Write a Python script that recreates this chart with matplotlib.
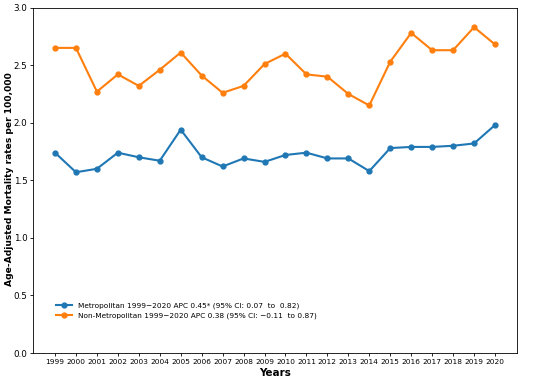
import numpy as np
from matplotlib import pyplot as plt

years = list(range(1999, 2021))
metro = [1.74, 1.57, 1.60, 1.74, 1.70, 1.67, 1.94, 1.70, 1.62, 1.69, 1.66,
         1.72, 1.74, 1.69, 1.69, 1.58, 1.78, 1.79, 1.79, 1.80, 1.82, 1.98]
nonmetro = [2.65, 2.65, 2.27, 2.42, 2.32, 2.46, 2.61, 2.41, 2.26, 2.32, 2.51,
            2.60, 2.42, 2.40, 2.25, 2.15, 2.53, 2.78, 2.63, 2.63, 2.83, 2.68]
labels = ["Metropolitan 1999\u22122020 APC 0.45* (95% CI: 0.07  to  0.82)",
          "Non-Metropolitan 1999\u22122020 APC 0.38 (95% CI: \u22120.11  to 0.87)"]

fig = plt.figure(figsize=(5.5, 3.8), dpi=100)
ax = fig.add_axes([0.06, 0.071, 0.88, 0.909])
ax.plot(years, metro, marker='o', color='#1f77b4', markersize=3.5, linewidth=1.5, label=labels[0])
ax.plot(years, nonmetro, marker='o', color='#ff7f0e', markersize=3.5, linewidth=1.5, label=labels[1])

ax.set_ylim(0, 3.0)
ax.set_xticks(years)
ax.set_xticklabels([str(y) for y in years], fontsize=5.3)
ax.tick_params(axis='y', labelsize=6.3)
ax.tick_params(length=2.5, width=0.6, pad=1.5)
for s in ax.spines.values():
    s.set_linewidth(0.6)
ax.set_xlabel("Years", fontsize=7.5, fontweight='bold', va='center')
ax.set_ylabel("Age-Adjusted Mortality rates per 100,000", fontsize=6.6, fontweight='bold', va='center')
ax.xaxis.set_label_coords(0.5, -0.058)
ax.yaxis.set_label_coords(-0.048, 0.505)
ax.legend(loc='lower left', bbox_to_anchor=(0.033, 0.08), frameon=False, fontsize=5.3,
          handlelength=2.2, labelspacing=0.45)

fig.savefig("out.png", dpi=100)
